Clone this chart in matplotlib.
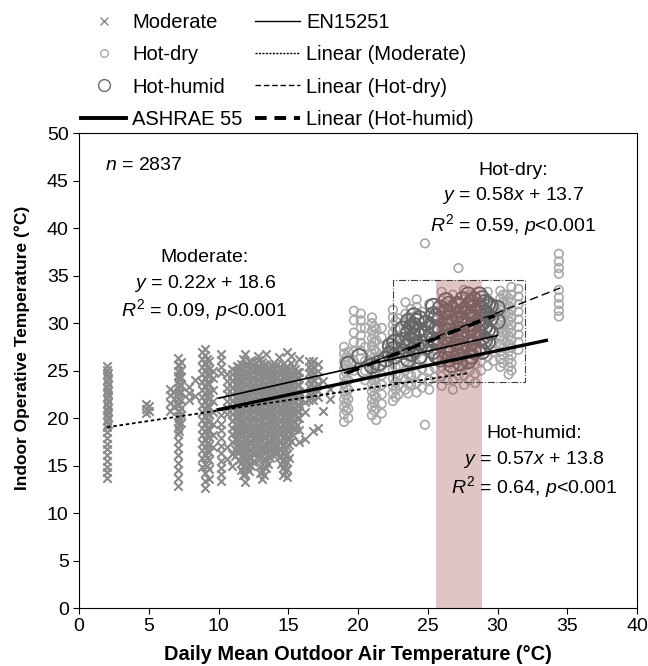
#!/usr/bin/env python3

"""Indoor operative temperature vs daily mean outdoor air temperature,
   with comfort standards and linear fits per climate group."""

import matplotlib
matplotlib.use("Agg")
import matplotlib.pyplot as plt
from matplotlib.lines import Line2D
from matplotlib.patches import Rectangle

plt.rcParams['font.family'] = ['Liberation Sans', 'DejaVu Sans']
plt.rcParams['mathtext.fontset'] = 'custom'
plt.rcParams['mathtext.rm'] = 'Liberation Sans'
plt.rcParams['mathtext.it'] = 'Liberation Sans:italic'

# scatter data, one (outdoor temp, [indoor temps]) entry per vertical streak
moderate_cols = [
    (2.0, [13.7, 14.3, 14.9, 15.5, 16.1, 16.7, 17.3, 17.9, 18.5, 19.1, 19.7, 20.3, 20.9, 21.5, 22.1, 22.7, 23.3, 23.9, 24.5, 25.1, 25.5]),
    (2.05, [19.4, 20.0, 20.6, 21.2, 21.8, 22.4, 23.0, 23.6, 24.2, 24.8]),
    (4.8, [20.5, 21.0, 21.5]),
    (5.0, [20.7, 21.3]),
    (6.5, [20.8, 21.6, 22.4, 23.1]),
    (6.8, [21.3, 22.0, 22.7]),
    (7.1, [12.9, 13.7, 14.5, 15.3, 16.1, 16.9, 17.6, 18.3, 19.0, 19.6, 20.2, 20.8, 21.4, 22.0, 22.6, 23.2, 23.8, 24.4, 25.0, 25.6, 26.3]),
    (7.2, [18.6, 19.3, 20.0, 20.7, 21.4, 22.1, 22.8, 23.5, 24.2, 24.9, 25.6]),
    (7.3, [19.5, 20.3, 21.1, 21.9, 22.7, 23.5, 24.3, 25.1, 25.9]),
    (7.9, [21.9, 22.6, 23.3]),
    (8.3, [22.3, 24.0]),
    (8.8, [14.9, 15.8, 16.6, 17.4, 18.2, 19.0, 19.8, 20.6, 21.4, 22.2, 23.0, 23.8, 24.6, 25.4, 26.2, 27.0]),
    (9.0, [12.6, 13.4, 14.2, 15.2, 16.2, 17.0, 17.8, 18.6, 19.4, 20.2, 21.0, 21.8, 22.6, 23.4, 24.2, 25.0, 25.8, 26.6, 27.3]),
    (9.15, [15.0, 15.8, 16.6, 17.4, 18.2, 19.0, 19.8, 20.6, 21.4, 22.2, 23.0, 23.8, 24.6, 25.4, 26.2]),
    (9.3, [13.6, 14.6, 15.6, 16.4, 17.2, 18.0, 18.8, 19.6, 20.4, 21.2, 22.0, 22.8, 23.6, 24.4, 25.2, 26.0]),
    (9.6, [17.0, 18.2, 19.4, 20.6, 21.8, 23.0, 24.2, 25.0]),
    (10.2, [13.4, 14.1, 14.8, 15.5, 16.3, 17.1, 17.9, 18.7, 19.4, 20.3, 24.7, 25.4, 26.1, 26.8]),
    (10.6, [15.7, 17.0, 20.4, 21.1, 21.8, 22.5, 23.2, 23.9, 24.6]),
    (11.0, [15.0, 16.2, 17.5, 18.3, 19.0, 19.7, 20.4, 21.1, 21.8, 22.5, 23.2, 23.9, 24.6, 25.2]),
    (11.15, [16.0, 16.8, 17.8, 18.6, 19.4, 20.1, 20.8, 21.5, 22.2, 22.9, 23.6, 24.3, 25.0]),
    (11.3, [16.5, 17.2, 17.9, 18.6, 19.3, 20.0, 20.7, 21.4, 22.1, 22.8, 23.5, 24.2, 24.9, 25.5]),
    (11.45, [15.6, 16.4, 17.1, 17.8, 18.5, 19.2, 19.9, 20.6, 21.3, 22.0, 22.7, 23.4, 24.1, 24.8, 25.4]),
    (11.6, [14.5, 15.3, 16.0, 16.7, 17.4, 18.1, 18.8, 19.5, 20.2, 20.9, 21.6, 22.3, 23.0, 23.7, 24.4, 25.1, 25.7]),
    (11.75, [14.0, 15.0, 15.8, 16.6, 17.4, 18.2, 18.9, 19.6, 20.3, 21.0, 21.7, 22.4, 23.1, 23.8, 24.5, 25.2, 26.2]),
    (11.9, [13.3, 14.1, 14.9, 15.7, 16.5, 17.3, 18.0, 18.7, 19.4, 20.1, 20.8, 21.5, 22.2, 22.9, 23.6, 24.3, 25.0, 25.6, 26.8]),
    (12.05, [14.8, 15.6, 16.4, 17.2, 17.9, 18.6, 19.3, 20.0, 20.7, 21.4, 22.1, 22.8, 23.5, 24.2, 24.9, 25.6]),
    (12.2, [14.4, 15.2, 16.0, 16.8, 17.6, 18.4, 19.1, 19.8, 20.5, 21.2, 21.9, 22.6, 23.3, 24.0, 24.7, 25.4, 26.0]),
    (12.35, [15.0, 15.8, 16.6, 17.4, 18.2, 18.9, 19.6, 20.3, 21.0, 21.7, 22.4, 23.1, 23.8, 24.5, 25.2, 25.9]),
    (12.5, [15.4, 16.2, 17.0, 17.8, 18.6, 19.3, 20.0, 20.7, 21.4, 22.1, 22.8, 23.5, 24.2, 24.9, 25.6]),
    (12.65, [16.4, 17.2, 18.0, 18.8, 19.5, 20.2, 20.9, 21.6, 22.3, 23.0, 23.7, 24.4, 25.1, 25.8]),
    (12.8, [16.0, 16.8, 17.6, 18.4, 19.1, 19.8, 20.5, 21.2, 21.9, 22.6, 23.3, 24.0, 24.7, 25.4, 26.1, 26.5]),
    (12.95, [14.2, 15.0, 15.8, 16.6, 17.4, 18.1, 18.8, 19.5, 20.2, 20.9, 21.6, 22.3, 23.0, 23.7, 24.4, 25.1]),
    (13.1, [13.6, 14.4, 15.2, 16.0, 16.8, 17.6, 18.3, 19.0, 19.7, 20.4, 21.1, 21.8, 22.5, 23.2, 23.9, 24.6, 25.3, 25.9]),
    (13.25, [14.0, 15.0, 15.8, 16.6, 17.4, 18.1, 18.8, 19.5, 20.2, 20.9, 21.6, 22.3, 23.0, 23.7, 24.4, 25.1, 25.7]),
    (13.4, [14.8, 15.6, 16.4, 17.2, 18.0, 18.7, 19.4, 20.1, 20.8, 21.5, 22.2, 22.9, 23.6, 24.3, 25.0, 25.6, 26.8]),
    (13.55, [15.2, 16.0, 16.8, 17.6, 18.4, 19.1, 19.8, 20.5, 21.2, 21.9, 22.6, 23.3, 24.0, 24.7, 25.4]),
    (13.7, [15.8, 16.6, 17.4, 18.2, 18.9, 19.6, 20.3, 21.0, 21.7, 22.4, 23.1, 23.8, 24.5, 25.2]),
    (13.85, [16.2, 17.0, 17.8, 18.6, 19.3, 20.0, 20.7, 21.4, 22.1, 22.8, 23.5, 24.2, 24.9, 25.5]),
    (14.0, [16.5, 17.3, 18.1, 18.9, 19.6, 20.3, 21.0, 21.7, 22.4, 23.1, 23.8, 24.5, 25.2, 25.8]),
    (14.15, [16.2, 17.0, 17.8, 18.6, 19.3, 20.0, 20.7, 21.4, 22.1, 22.8, 23.5, 24.2, 24.9, 25.6]),
    (14.3, [15.9, 16.7, 17.5, 18.3, 19.0, 19.7, 20.4, 21.1, 21.8, 22.5, 23.2, 23.9, 24.6, 25.3, 26.4]),
    (14.45, [15.2, 16.0, 16.8, 17.6, 18.4, 19.1, 19.8, 20.5, 21.2, 21.9, 22.6, 23.3, 24.0, 24.7, 25.4]),
    (14.6, [14.0, 14.8, 15.6, 16.4, 17.2, 18.0, 18.7, 19.4, 20.1, 20.8, 21.5, 22.2, 22.9, 23.6, 24.3, 25.0, 25.7]),
    (14.75, [14.4, 15.2, 16.0, 16.8, 17.6, 18.3, 19.0, 19.7, 20.4, 21.1, 21.8, 22.5, 23.2, 23.9, 24.6, 25.3]),
    (14.9, [13.8, 14.6, 15.4, 16.2, 17.0, 17.8, 18.6, 19.3, 20.0, 20.7, 21.4, 22.1, 22.8, 23.5, 24.2, 24.9, 25.5, 27.0]),
    (15.05, [15.8, 17.2, 18.0, 18.8, 19.6, 20.3, 21.0, 21.7, 22.4, 23.1, 23.8, 24.5, 25.2]),
    (15.2, [17.6, 18.4, 19.2, 19.9, 20.6, 21.3, 22.0, 22.7, 23.4, 24.1, 24.8, 25.8, 26.5]),
    (15.35, [18.2, 19.0, 19.7, 20.4, 21.1, 21.8, 22.5, 23.2, 23.9, 24.6, 25.4]),
    (15.5, [18.9, 19.6, 20.3, 21.0, 21.7, 22.4, 23.1, 23.8, 24.5, 25.2]),
    (15.65, [19.3, 20.0, 20.7, 21.4, 22.1, 22.8, 23.5, 24.2, 24.9]),
    (15.8, [17.5, 18.8, 20.0, 20.7, 21.4, 22.1, 22.8, 23.5, 24.2, 24.9, 26.2]),
    (16.2, [17.8, 20.6, 21.7]),
    (16.5, [21.9, 22.6, 23.3, 24.0, 24.7, 25.4, 26.0]),
    (16.65, [22.2, 22.9, 23.6, 24.3, 25.0, 25.7]),
    (16.8, [18.6, 21.9, 22.6, 23.3, 24.0, 24.7, 25.4, 26.0]),
    (17.1, [19.0, 22.2, 22.9, 23.6, 24.3, 25.0, 25.7]),
    (17.5, [20.8, 23.9]),
    (18.0, [22.0, 23.1]),
    (27.7, [25.6]),
]

hot_dry_cols = [
    (19.0, [19.6, 20.4, 21.2, 22.0, 22.8, 23.6, 24.4, 25.2, 26.0, 26.8, 27.5]),
    (19.15, [20.8, 21.6, 22.4, 23.2, 24.0, 24.8, 25.6, 26.4]),
    (19.3, [20.0, 21.0, 22.0, 23.0, 24.0, 25.0, 26.0, 27.0]),
    (19.7, [25.0, 26.0, 27.0, 28.0, 29.0, 30.3, 31.3]),
    (20.2, [26.3, 27.1, 27.9, 28.7, 29.5, 30.3, 31.0]),
    (20.5, [24.0, 25.0, 26.0, 27.5, 29.5]),
    (21.0, [20.3, 21.2, 22.0, 22.8, 23.6, 24.4, 25.2, 26.0, 26.8, 27.6, 28.4, 29.2, 30.0, 30.6]),
    (21.15, [20.8, 21.6, 22.4, 23.2, 24.0, 24.8, 25.6, 26.4, 27.2, 28.0, 28.8, 29.6]),
    (21.3, [19.8, 21.0, 22.2, 23.4, 24.6, 25.8, 27.0, 28.2, 29.4]),
    (21.7, [20.5, 21.5, 22.5, 23.5, 24.5, 25.5, 26.5, 27.5, 28.5, 29.5]),
    (22.5, [21.8, 22.6, 23.4, 24.2, 25.0, 25.8, 26.6, 27.4, 28.2, 29.0, 29.8, 30.6, 31.4]),
    (22.7, [22.2, 23.0, 23.8, 24.6, 25.4, 26.2, 27.0, 27.8, 28.6, 29.4, 30.2]),
    (22.9, [22.5, 23.5, 24.5, 25.5, 26.5, 27.5, 28.5, 29.5, 30.5]),
    (23.4, [23.0, 24.0, 25.0, 26.0, 27.0, 28.0, 29.0, 30.0, 31.0, 32.2]),
    (23.6, [22.6, 23.6, 24.6, 25.6, 26.6, 27.6, 28.6, 29.6, 30.6]),
    (23.8, [23.5, 24.5, 25.5, 26.5, 27.5, 28.5, 29.5, 30.5, 31.5]),
    (24.2, [22.7, 23.7, 24.7, 25.7, 26.7, 27.7, 28.7, 29.7, 30.7, 31.7, 32.5]),
    (24.6, [23.2, 24.2, 25.2, 26.2, 27.2, 28.2, 29.2, 30.2, 31.2]),
    (24.8, [19.3, 38.4]),
    (25.1, [23.0, 24.0, 25.0, 26.0, 27.0, 28.0, 29.0, 30.0, 31.0, 32.0]),
    (25.5, [24.3, 25.3, 26.3, 27.3, 28.3, 29.3, 30.3, 31.3]),
    (26.0, [23.4, 24.4, 25.4, 26.4, 27.4, 28.4, 29.4, 30.4, 31.4, 32.4, 33.3]),
    (26.4, [24.0, 25.0, 26.0, 27.0, 28.0, 29.0, 30.0, 31.0, 32.0]),
    (26.8, [23.0, 24.0, 25.0, 26.0, 27.0, 28.0, 29.0, 30.0, 31.0, 32.0, 33.0]),
    (27.2, [24.5, 25.5, 26.5, 27.5, 28.5, 29.5, 30.5, 31.5, 35.8]),
    (27.6, [23.5, 24.5, 25.5, 26.5, 27.5, 28.5, 29.5, 30.5, 31.5, 32.5, 33.5]),
    (28.0, [24.0, 25.0, 26.0, 27.0, 28.0, 29.0, 30.0, 31.0, 32.0, 33.0]),
    (28.4, [23.7, 24.7, 25.7, 26.7, 27.7, 28.7, 29.7, 30.7, 31.7, 32.7]),
    (28.8, [25.0, 26.0, 27.0, 28.0, 29.0, 30.0, 31.0, 32.0]),
    (29.3, [25.5, 26.5, 27.5, 28.5, 29.5, 30.5, 31.5, 32.5, 33.3]),
    (29.7, [26.0, 27.0, 28.0, 29.0, 30.0, 31.0, 32.0]),
    (30.2, [25.4, 26.2, 27.0, 27.8, 28.6, 29.4, 30.2, 31.0, 31.8, 32.6, 33.4]),
    (30.4, [25.8, 26.6, 27.4, 28.2, 29.0, 29.8, 30.6, 31.4, 32.2, 33.0]),
    (30.6, [28.0, 29.0, 30.0, 31.0, 32.0, 33.0]),
    (30.8, [24.6, 25.4, 26.2, 27.0, 27.8, 28.6, 29.4, 30.2, 31.0, 31.8, 32.6]),
    (31.0, [25.0, 25.8, 26.6, 27.4, 28.2, 29.0, 29.8, 30.6, 31.4, 32.2, 33.0, 33.8]),
    (31.5, [27.2, 28.0, 28.8, 29.6, 30.4, 31.2, 32.0, 32.8, 33.6]),
    (34.4, [30.7, 31.3, 32.0, 32.7, 33.5, 35.2, 35.8, 36.5, 37.3]),
]

hot_humid_cols = [
    (19.3, [25.7]), (20.1, [26.5]), (20.5, [25.0]), (21.0, [25.5]), (21.5, [25.8]),
    (22.0, [26.2]), (22.3, [26.8, 27.6]),
    (22.6, [26.5, 27.3, 28.0]),
    (23.2, [27.0, 28.2, 29.4]),
    (23.6, [26.2, 27.6, 29.0, 30.2]),
    (23.8, [26.8, 28.2, 29.6]),
    (24.0, [27.2, 28.6, 29.8, 30.8]),
    (24.2, [27.6, 29.0, 30.2]),
    (24.4, [26.5, 28.0, 29.3, 30.5]),
    (24.9, [27.5, 28.9, 30.0]),
    (25.4, [27.0, 28.3, 29.6, 30.9, 31.8]),
    (25.6, [26.6, 28.0, 29.4, 30.7]),
    (25.9, [26.2, 27.8, 29.2, 30.5, 31.6]),
    (26.3, [27.0, 28.5, 29.9, 31.2, 32.4]),
    (26.5, [26.2, 27.7, 29.2, 30.6, 32.0]),
    (26.7, [25.6, 27.3, 28.7, 30.1, 31.5]),
    (27.1, [26.5, 28.0, 29.4, 30.8, 32.0]),
    (27.3, [25.8, 27.6, 29.0, 30.4, 31.8]),
    (27.5, [27.3, 28.7, 30.0, 31.3, 32.5]),
    (27.9, [26.0, 27.8, 29.2, 30.6, 31.8, 33.0]),
    (28.1, [26.5, 28.0, 29.5, 30.9, 32.2]),
    (28.3, [27.0, 28.5, 29.9, 31.2, 32.5]),
    (28.7, [27.5, 29.0, 30.4, 31.7, 33.0]),
    (28.9, [27.0, 28.5, 30.0, 31.4, 32.6]),
    (29.1, [28.2, 29.6, 31.0, 32.2]),
    (29.3, [28.0, 29.3, 30.8, 32.0]),
    (29.5, [29.0, 30.5, 31.8]),
    (30.0, [30.2, 31.6]),
]

# lines: (x start, x end, slope, intercept)
en15251 = (10.0, 30.0, 0.33, 18.8)
ashrae55 = (10.0, 33.5, 0.31, 17.8)
fit_moderate = (2.0, 28.0, 0.22, 18.6)
fit_hot_dry = (19.0, 34.5, 0.58, 13.7)
fit_hot_humid = (19.2, 29.8, 0.57, 13.8)

band_x = (25.6, 28.9)
band_top = 34.5
box = (22.5, 23.8, 32.0, 34.5)


def flatten(cols):
    xs, ys = [], []
    for x, col in cols:
        xs += [x] * len(col)
        ys += col
    return xs, ys


def line_xy(spec):
    x0, x1, m, b = spec
    return [x0, x1], [m * x0 + b, m * x1 + b]


fig = plt.figure(figsize=(6.48, 6.66), dpi=100)
ax = fig.add_axes([0.122, 0.087, 0.861, 0.713])

mx, my = flatten(moderate_cols)
dx, dy = flatten(hot_dry_cols)
hx, hy = flatten(hot_humid_cols)
ax.scatter(mx, my, marker='x', s=36, color='#8a8a8a', linewidths=1.5, zorder=2)
ax.scatter(dx, dy, marker='o', s=38, facecolors='none', edgecolors='#a8a8a8', linewidths=1.2, zorder=2)
ax.scatter(hx, hy, marker='o', s=110, facecolors='none', edgecolors='#666666', linewidths=1.4, zorder=2)

ax.axvspan(band_x[0], band_x[1], ymin=0, ymax=band_top / 50, color='#a85a5a', alpha=0.35, lw=0, zorder=3)
ax.add_patch(Rectangle((box[0], box[1]), box[2] - box[0], box[3] - box[1], fill=False,
                       ls='-.', lw=0.8, ec='#404040', zorder=3))

ax.plot(*line_xy(en15251), color='black', lw=1.2, zorder=4)
ax.plot(*line_xy(ashrae55), color='black', lw=2.4, zorder=4)
ax.plot(*line_xy(fit_moderate), color='black', lw=1.3, ls=(0, (2, 1.5)), zorder=4)
ax.plot(*line_xy(fit_hot_dry), color='black', lw=1.0, ls=(0, (6, 3)), zorder=4)
ax.plot(*line_xy(fit_hot_humid), color='black', lw=2.4, ls=(0, (4, 2.5)), zorder=4)

ax.set_xlim(0, 40)
ax.set_ylim(0, 50)
ax.set_xticks(range(0, 41, 5))
ax.set_yticks(range(0, 51, 5))
ax.tick_params(labelsize=14, direction='out', length=4, top=False, right=False)
ax.set_xlabel('Daily Mean Outdoor Air Temperature (°C)', fontsize=14.4, fontweight='bold', labelpad=7)
ax.set_ylabel('Indoor Operative Temperature (°C)', fontsize=12.5, fontweight='bold')
ax.yaxis.set_label_coords(-0.088, 0.547)

ax.text(1.85, 46.6, r'$n$ = 2837', fontsize=14, va='center', ha='left')

tkw = dict(fontsize=14, ha='center', va='center')
notes = [
    (9.0, [36.9, 34.2, 31.4], 'Moderate:', '0.22', '18.6', '0.09'),
    (31.1, [46.1, 43.4, 40.3], 'Hot-dry:', '0.58', '13.7', '0.59'),
    (32.6, [18.4, 15.6, 12.7], 'Hot-humid:', '0.57', '13.8', '0.64'),
]
for cx, ys, name, slope, icpt, r2 in notes:
    ax.text(cx, ys[0], name, **tkw)
    ax.text(cx, ys[1], r'$y$ = %s$x$ + %s' % (slope, icpt), **tkw)
    ax.text(cx, ys[2], r'$R^2$ = %s, $p$<0.001' % r2, **tkw)

handles = [
    Line2D([], [], ls='none', marker='x', ms=5.5, mec='#8a8a8a', mew=1.0),
    Line2D([], [], ls='none', marker='o', ms=5.5, mfc='none', mec='#a8a8a8', mew=1.0),
    Line2D([], [], ls='none', marker='o', ms=8.5, mfc='none', mec='#6a6a6a', mew=1.0),
    Line2D([], [], color='black', lw=2.8),
    Line2D([], [], color='black', lw=1.0),
    Line2D([], [], color='black', lw=1.0, ls=(0, (1.5, 1))),
    Line2D([], [], color='black', lw=1.0, ls=(0, (4, 2))),
    Line2D([], [], color='black', lw=2.8, ls=(0, (3, 2))),
]
labels = ['Moderate', 'Hot-dry', 'Hot-humid', 'ASHRAE 55',
          'EN15251', 'Linear (Moderate)', 'Linear (Hot-dry)', 'Linear (Hot-humid)']
fig.legend(handles, labels, ncol=2, loc='upper left', bbox_to_anchor=(81 / 648, 0.98),
           frameon=False, fontsize=14.5, handlelength=2.25, handletextpad=0.3,
           columnspacing=0.6, labelspacing=0.65, borderpad=0, borderaxespad=0)

plt.savefig('out.png', dpi=100)
